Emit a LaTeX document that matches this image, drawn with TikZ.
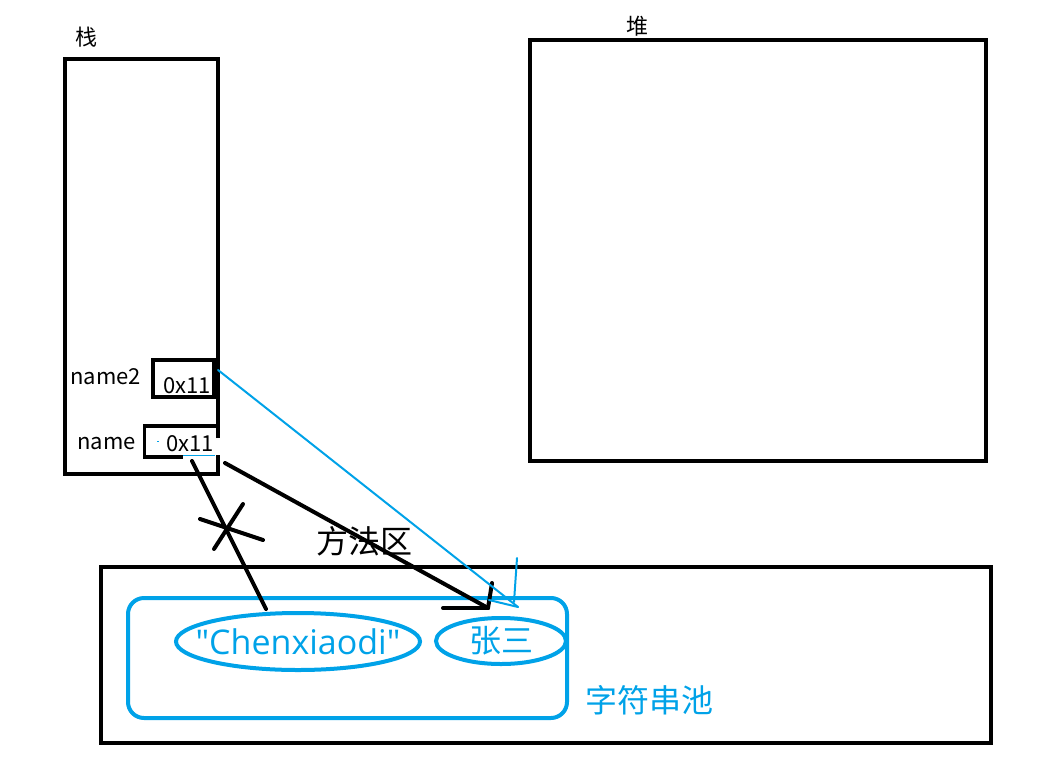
\documentclass[tikz,border=0pt]{standalone}
\usepackage{fontspec}
\setmainfont{Noto Sans CJK SC}
\newfontfamily\strfont{Open Sans}[Ligatures=TeXOff]
\usetikzlibrary{shapes.geometric}
\definecolor{paintblue}{RGB}{0,162,232}
\begin{document}
\begin{tikzpicture}[x=1pt,y=-1pt,
  area/.style={draw, line width=4pt},
  slot/.style={draw, line width=3.3pt, minimum width=61pt, minimum height=37pt, inner sep=0pt},
  pool/.style={draw=paintblue, line width=4pt, rounded corners=16pt},
  strobj/.style={ellipse, draw=paintblue, line width=4pt, inner sep=0pt},
  strtxt/.style={text=paintblue, inner sep=0pt, font=\fontsize{32}{32}\selectfont},
  lbl/.style={font=\fontsize{22}{22}\selectfont, inner sep=0pt},
  big/.style={font=\fontsize{32}{32}\selectfont, inner sep=0pt},
  ref/.style={line width=4pt, line cap=round},
  bref/.style={paintblue, line width=2pt, line cap=round}]
  \useasboundingbox (0,0) rectangle (1043,768);
  % stack
  \node[lbl] (stacklbl) at (86,37) {栈};
  \draw[line width=4pt] (218,438) -- (218,59) -- (65,59) -- (65,474) -- (218,474) -- (218,455);
  \node[slot] (n2box) at (183.5,378.5) {};
  \node[lbl, anchor=east] (n2lbl) at (141,377) {name2};
  \node[lbl] (n2val) at (187,386) {0x11};
  \draw[line width=3.5pt] (183,457) -- (144.5,457) -- (144.5,426) -- (218,426);
  \draw[paintblue, line width=1pt] (183,455.5) -- (215,455.5);
  \draw[paintblue, line width=1pt] (157,441) -- (159,441);
  \node[lbl, anchor=east] (nlbl) at (136,444) {name};
  \node[lbl] (nval) at (190,444) {0x11};
  % heap
  \node[lbl] (heaplbl) at (637,26) {堆};
  \draw[area] (529.5,40.5) rectangle (985.5,461);
  % method area
  \node[big] (methodlbl) at (364,541) {方法区};
  \draw[area] (101,567) rectangle (991,743);
  \draw[pool] (128,598) rectangle (567,718);
  \node[strobj, minimum width=244pt, minimum height=57pt] (chen) at (298,641.5) {};
  \node[strtxt, font=\strfont\fontsize{34}{34}\selectfont] (chentxt) at (chen) {"Chenxiaodi"};
  \node[strobj, minimum width=130pt, minimum height=46pt] (zs) at (501,641) {};
  \node[strtxt] (zstxt) at (zs) {张三};
  \node[big, text=paintblue, anchor=west] (poollbl) at (585,700) {字符串池};
  % references
  \coordinate (nout) at (225,463);
  \coordinate (ntip) at (488,608);
  \coordinate (n2out) at (218,370);
  \coordinate (n2tip) at (518,607);
  \coordinate (oldout) at (192,461);
  \coordinate (oldin) at (266,609);
  \draw[ref] (oldout) -- (oldin);
  \draw[ref] (200,519) -- (263,540);
  \draw[ref] (243,504) -- (214,549);
  \draw[ref] (nout) -- (ntip);
  \draw[ref] (ntip) -- ++(-45,0);
  \draw[ref] (ntip) -- ++(4,-25);
  \draw[bref] (n2out) -- (n2tip);
  \draw[bref] (n2tip) -- ++(-29,-7);
  \draw[bref] (514,602) -- (517,558);
\end{tikzpicture}
\end{document}
